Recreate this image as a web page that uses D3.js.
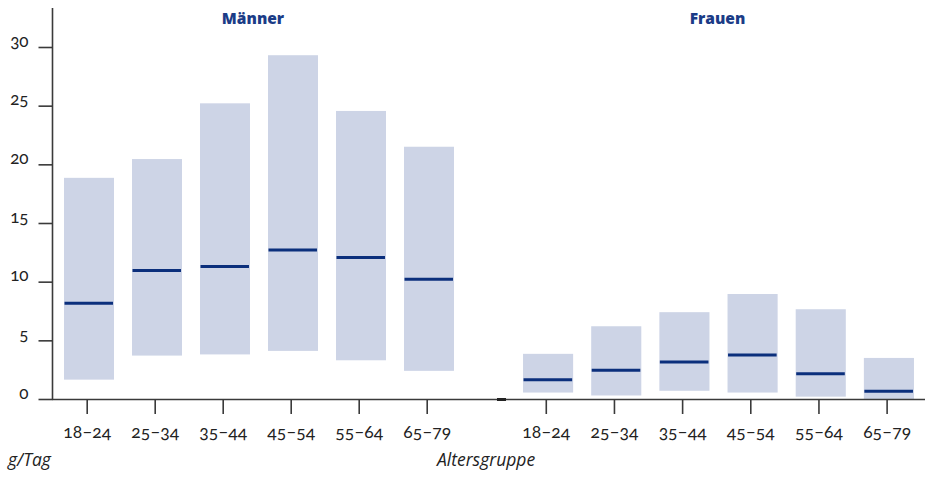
<!DOCTYPE html>
<html>
<head>
<meta charset="utf-8">
<script src="https://cdn.jsdelivr.net/npm/d3@7"></script>
<style>
  html, body { margin: 0; padding: 0; background: #fff; }
  svg { display: block; }
  .num { font-family: "Lato", "Open Sans", sans-serif; font-feature-settings: "onum" 1; font-variant-numeric: oldstyle-nums; }
</style>
</head>
<body>
<svg id="chart" width="925" height="479"></svg>
<script>
// ---- data ----
const categories = ["18–24", "25–34", "35–44", "45–54", "55–64", "65–79"];
const groups = ["Männer", "Frauen"];
// lower bound, upper bound, median (g/Tag)
const menLow    = [1.65, 3.7, 3.8, 4.1, 3.3, 2.4];
const menHigh   = [18.85, 20.45, 25.2, 29.3, 24.55, 21.5];
const menMedian = [8.15, 10.95, 11.3, 12.7, 12.05, 10.2];
const womenLow    = [0.55, 0.3, 0.7, 0.55, 0.2, 0.0];
const womenHigh   = [3.85, 6.2, 7.4, 8.95, 7.65, 3.5];
const womenMedian = [1.65, 2.45, 3.15, 3.75, 2.15, 0.65];
const yTicks = [0, 5, 10, 15, 20, 25, 30];
const yLabel = "g/Tag";
const xLabel = "Altersgruppe";

const svg = d3.select("#chart");
const barColor = "#cdd4e6";
const medColor = "#0b2f7c";
const axisColor = "#3a3a3a";

const y = d3.scaleLinear().domain([0, 30]).range([399, 47]);

const panels = [
  { name: groups[0], low: menLow, high: menHigh, med: menMedian, range: [55, 463] },
  { name: groups[1], low: womenLow, high: womenHigh, med: womenMedian, range: [514, 923] }
];

panels.forEach(p => {
  const x = d3.scaleBand().domain(categories).range(p.range)
    .paddingInner(0.265).paddingOuter(0.1325);
  const g = svg.append("g");
  const rows = categories.map((c, i) => ({ c, lo: p.low[i], hi: p.high[i], md: p.med[i] }));
  g.selectAll("rect.bar").data(rows).join("rect")
    .attr("class", "bar")
    .attr("x", d => x(d.c))
    .attr("width", x.bandwidth())
    .attr("y", d => y(d.hi))
    .attr("height", d => y(d.lo) - y(d.hi))
    .attr("fill", barColor);
  g.selectAll("line.med").data(rows).join("line")
    .attr("class", "med")
    .attr("x1", d => x(d.c) + 0.5)
    .attr("x2", d => x(d.c) + x.bandwidth() - 1)
    .attr("y1", d => y(d.md))
    .attr("y2", d => y(d.md))
    .attr("stroke", medColor)
    .attr("stroke-width", 3);

  // x axis ticks and labels
  const xa = svg.append("g").attr("transform", "translate(-2.3,399)")
    .call(d3.axisBottom(d3.scalePoint().domain(categories)
      .range([x(categories[0]) + x.bandwidth() / 2, x(categories[5]) + x.bandwidth() / 2]))
      .tickSize(15).tickPadding(8));
  xa.select(".domain").remove();
  xa.selectAll(".tick line").attr("stroke", axisColor).attr("stroke-width", 1.6);
  xa.selectAll(".tick text")
    .attr("class", "num")
    .attr("font-size", 17.5)
    .attr("fill", "#222")
    .attr("dy", "0.9em");

  svg.append("text")
    .attr("x", (p.range[0] + p.range[1]) / 2 + (p.name === "Männer" ? -6 : -1))
    .attr("y", 24)
    .attr("text-anchor", "middle")
    .attr("font-family", "Open Sans, sans-serif")
    .attr("font-weight", 800)
    .attr("font-size", 15.5)
    .attr("fill", "#1b3c87")
    .text(p.name);
});

// x axis baseline
svg.append("line").attr("x1", 52).attr("x2", 925).attr("y1", 399.5).attr("y2", 399.5)
  .attr("stroke", axisColor).attr("stroke-width", 1.6);
svg.append("rect").attr("x", 497).attr("y", 398).attr("width", 9).attr("height", 3)
  .attr("fill", "#222");

// y axis
const ya = svg.append("g").attr("transform", "translate(52.5,0)")
  .call(d3.axisLeft(y).tickValues(yTicks).tickSize(14).tickPadding(10).tickFormat(d3.format("d")));
ya.select(".domain").remove();
ya.selectAll(".tick line").attr("stroke", axisColor).attr("stroke-width", 1.6);
ya.selectAll(".tick text")
  .attr("class", "num")
  .attr("font-size", 17)
  .attr("fill", "#222")
  .attr("dy", "-0.05em");
svg.append("line").attr("x1", 52.5).attr("x2", 52.5).attr("y1", 8).attr("y2", 400)
  .attr("stroke", axisColor).attr("stroke-width", 1.6);

// axis labels
svg.append("text").attr("x", 8).attr("y", 466)
  .attr("font-family", "Open Sans, sans-serif").attr("font-style", "italic")
  .attr("font-size", 17.5).attr("fill", "#222").text(yLabel);
svg.append("text").attr("x", 437).attr("y", 466)
  .attr("font-family", "Open Sans, sans-serif").attr("font-style", "italic")
  .attr("font-size", 17.5).attr("fill", "#222").text(xLabel);
</script>
</body>
</html>
